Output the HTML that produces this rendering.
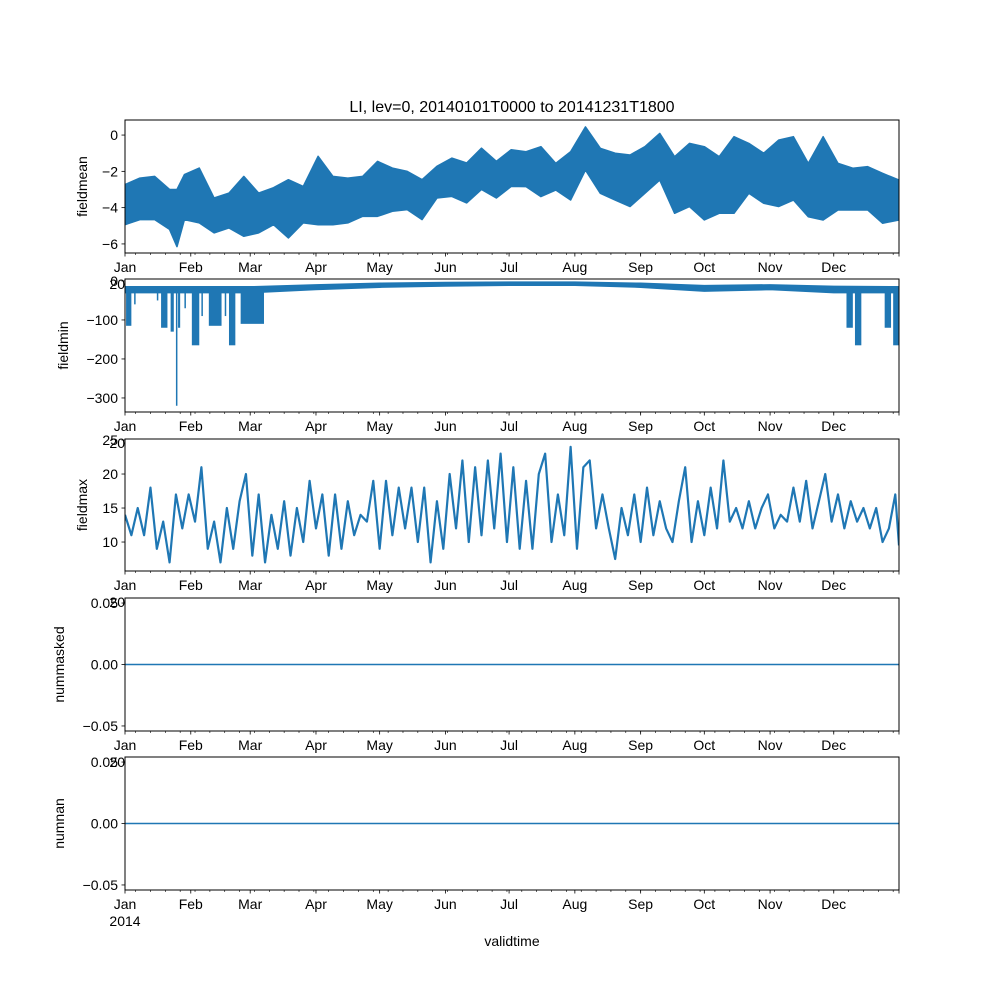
<!DOCTYPE html>
<html><head><meta charset="utf-8"><style>
html,body{margin:0;padding:0;background:#fff;}
svg{display:block;font-family:"Liberation Sans","DejaVu Sans",sans-serif;}
</style></head><body>
<svg id="fig" width="1000" height="1000" viewBox="0 0 1000 1000" xmlns="http://www.w3.org/2000/svg">
<rect x="0" y="0" width="1000" height="1000" fill="#fff"/>
<text x="512" y="112" font-size="16" text-anchor="middle">LI, lev=0, 20140101T0000 to 20141231T1800</text>
<text x="512" y="946" font-size="14" text-anchor="middle">validtime</text>
</svg>
<script>
// ---- data ----
const monthLabels = ["Jan","Feb","Mar","Apr","May","Jun","Jul","Aug","Sep","Oct","Nov","Dec"];
const monthStartDays = [0,31,59,90,120,151,181,212,243,273,304,334];
// fieldmean envelope
const meanDays = [0,7,14,21,24.5,28,35,42,49,56,63,70,77,84,91,98,105,112,119,126,133,140,147,154,161,168,175,182,189,196,203,210,217,224,231,238,245,252,259,266,273,280,287,294,301,308,315,322,329,336,343,350,357,364.75];
const meanHigh = [-2.73,-2.37,-2.28,-3.0,-3.0,-2.18,-1.82,-3.47,-3.2,-2.28,-3.2,-2.9,-2.46,-2.83,-1.17,-2.28,-2.37,-2.28,-1.45,-1.82,-2.0,-2.46,-1.72,-1.27,-1.54,-0.72,-1.45,-0.81,-0.92,-0.64,-1.56,-0.92,0.45,-0.73,-1.0,-1.1,-0.64,0.09,-1.19,-0.46,-0.64,-1.19,-0.09,-0.46,-1.0,-0.28,-0.09,-1.56,-0.09,-1.56,-1.83,-1.74,-2.11,-2.48];
const meanLow = [-4.94,-4.66,-4.66,-5.2,-6.15,-4.66,-4.84,-5.39,-5.12,-5.58,-5.39,-4.94,-5.67,-4.84,-4.94,-4.94,-4.84,-4.48,-4.48,-4.2,-4.11,-4.66,-3.47,-3.38,-3.74,-3.0,-3.47,-2.83,-2.84,-3.39,-3.03,-3.58,-1.93,-3.21,-3.58,-3.94,-3.21,-2.48,-4.31,-3.94,-4.68,-4.31,-4.31,-3.21,-3.76,-3.94,-3.58,-4.5,-4.68,-4.13,-4.13,-4.13,-4.86,-4.68];
// fieldmin base band + dips
const minBaseDays = [0,31,59,90,120,151,181,212,243,273,304,334,364.75];
const minBaseHigh = [-15,-15,-15,-10,-6,-4,-3,-3,-6,-12,-10,-14,-15];
const minBaseLow = [-30,-30,-30,-22,-16,-13,-11,-11,-16,-26,-22,-30,-30];
const dipStart = [0.5,4.3,15,17,21.5,24,25,28,31.5,36,39.5,47,49,54.5,340,344,358,362];
const dipEnd =   [3,4.8,15.4,20,23,24.5,26,28.4,35,36.5,45.5,47.5,52,65.5,343,347,361,364.7];
const dipVal =   [-115,-60,-50,-120,-130,-320,-120,-70,-165,-90,-115,-90,-165,-110,-120,-165,-120,-165];
// fieldmax series
const maxDays = [0,3,6,9,12,15,18,21,24,27,30,33,36,39,42,45,48,51,54,57,60,63,66,69,72,75,78,81,84,87,90,93,96,99,102,105,108,111,114,117,120,123,126,129,132,135,138,141,144,147,150,153,156,159,162,165,168,171,174,177,180,183,186,189,192,195,198,201,204,207,210,213,216,219,222,225,228,231,234,237,240,243,246,249,252,255,258,261,264,267,270,273,276,279,282,285,288,291,294,297,300,303,306,309,312,315,318,321,324,327,330,333,336,339,342,345,348,351,354,357,360,363,364.75];
const maxVals = [14,11,15,11,18,9,13,7,17,12,17,13,21,9,13,7,15,9,16,20,8,17,7,14,9,16,8,15,10,19,12,17,8,17,9,16,11,14,13,19,9,19,11,18,12,18,10,18,7,16,9,20,12,22,10,21,11,22,12,23,10,21,9,19,9,20,23,10,17,11,24,9,21,22,12,17,12,7.5,15,11,17,10,18,11,16,12,10,16,21,10,16,11,18,12,22,13,15,12,16,12,15,17,12,14,13,18,13,19,12,16,20,13,17,12,16,13,15,12,15,10,12,17,9.5];
const maskedDays = [0,364.75];
const maskedVals = [0,0];
const nanDays = [0,364.75];
const nanVals = [0,0];

const NS="http://www.w3.org/2000/svg";
const svg=document.getElementById('fig');
const L=125,R=899,DAYMAX=364.75;
const xs=d=>L+(R-L)*d/DAYMAX;
const C="#1f77b4";
function mk(tag,attrs,parent){const e=document.createElementNS(NS,tag);for(const k in attrs)e.setAttribute(k,attrs[k]);(parent||svg).appendChild(e);return e;}

const panels=[
 {name:"fieldmean",top:120,bot:253,ymin:-6.5,ymax:0.83,ticks:[0,-2,-4,-6],lab:["0","\u22122","\u22124","\u22126"],labx:87},
 {name:"fieldmin",top:279,bot:412,ymin:-336,ymax:5,ticks:[0,-100,-200,-300],lab:["0","\u2212100","\u2212200","\u2212300"],labx:68},
 {name:"fieldmax",top:439,bot:571,ymin:5.74,ymax:25.15,ticks:[10,15,20,25],lab:["10","15","20","25"],labx:87},
 {name:"nummasked",top:598,bot:731,ymin:-0.0541,ymax:0.0541,ticks:[0.05,0,-0.05],lab:["0.05","0.00","\u22120.05"],labx:64},
 {name:"numnan",top:757,bot:890,ymin:-0.0541,ymax:0.0541,ticks:[0.05,0,-0.05],lab:["0.05","0.00","\u22120.05"],labx:64}
];

panels.forEach((p,i)=>{
 const g=mk('g',{});
 
 
 const ys=v=>p.bot-(p.bot-p.top)*(v-p.ymin)/(p.ymax-p.ymin);
 mk('rect',{x:L,y:p.top,width:R-L,height:p.bot-p.top,fill:'#fff'},g);
 const clipId='clip'+i;
 const cp=mk('clipPath',{id:clipId},g);
 mk('rect',{x:L,y:p.top,width:R-L,height:p.bot-p.top},cp);
 const dg=mk('g',{'clip-path':'url(#'+clipId+')'},g);
 if(i===0){
  let pts=meanDays.map((d,k)=>xs(d)+','+ys(meanHigh[k]));
  for(let k=meanDays.length-1;k>=0;k--)pts.push(xs(meanDays[k])+','+ys(meanLow[k]));
  const poly=mk('polygon',{points:pts.join(' '),fill:C,stroke:C,'stroke-width':1.5,'stroke-linejoin':'round'},dg);
  
  
 } else if(i===1){
  let pts=minBaseDays.map((d,k)=>xs(d)+','+ys(minBaseHigh[k]));
  for(let k=minBaseDays.length-1;k>=0;k--)pts.push(xs(minBaseDays[k])+','+ys(minBaseLow[k]));
  const poly=mk('polygon',{points:pts.join(' '),fill:C,stroke:C,'stroke-width':1.5},dg);
  
  
  dipStart.forEach((s,k)=>{
   const r=mk('rect',{x:xs(s),y:ys(-20),width:Math.max(1.5,xs(dipEnd[k])-xs(s)),height:ys(dipVal[k])-ys(-20),fill:C},dg);
   
   
  });
 } else {
  const D=i===2?maxDays:(i===3?maskedDays:nanDays);
  const V=i===2?maxVals:(i===3?maskedVals:nanVals);
  const pl=mk('polyline',{points:D.map((d,k)=>xs(d)+','+ys(V[k])).join(' '),fill:'none',stroke:C,'stroke-width':i===2?2.2:1.5,'stroke-linejoin':'round'},dg);
  
  
 }
 mk('rect',{x:L,y:p.top,width:R-L,height:p.bot-p.top,fill:'none',stroke:'#000','stroke-width':1},g);
 // y ticks
 p.ticks.forEach((t,k)=>{
  const y=ys(t);
  mk('line',{x1:L-3.5,x2:L,y1:y,y2:y,stroke:'#000','stroke-width':0.8},g);
  const tx=mk('text',{x:L-7,y:y+5,'font-size':14,'text-anchor':'end'},g);
  tx.textContent=p.lab[k];
  
  
 });
 const yl=mk('text',{x:p.labx,y:(p.top+p.bot)/2,'font-size':14,'text-anchor':'middle',transform:'rotate(-90 '+p.labx+' '+((p.top+p.bot)/2)+')'},g);
 yl.textContent=p.name;
 
 
 // x ticks: minor weekly (Mondays)
 for(let d=5;d<DAYMAX;d+=7){
  mk('line',{x1:xs(d),x2:xs(d),y1:p.bot,y2:p.bot+2,stroke:'#000','stroke-width':0.6},g);
 }
 monthStartDays.concat([DAYMAX+0.25]).forEach((d,k)=>{
  const x=k===12?R:xs(d);
  mk('line',{x1:x,x2:x,y1:p.bot,y2:p.bot+3.5,stroke:'#000','stroke-width':0.8},g);
  if(k<12){
   const tx=mk('text',{x:x,y:p.bot+19,'font-size':14,'text-anchor':'middle'},g);
   tx.textContent=monthLabels[k];
   
   
  }
 });
 const yr=mk('text',{x:L,y:p.bot+36,'font-size':14,'text-anchor':'middle'},g);
 yr.textContent='2014';
 
 
});
</script>
</body></html>
